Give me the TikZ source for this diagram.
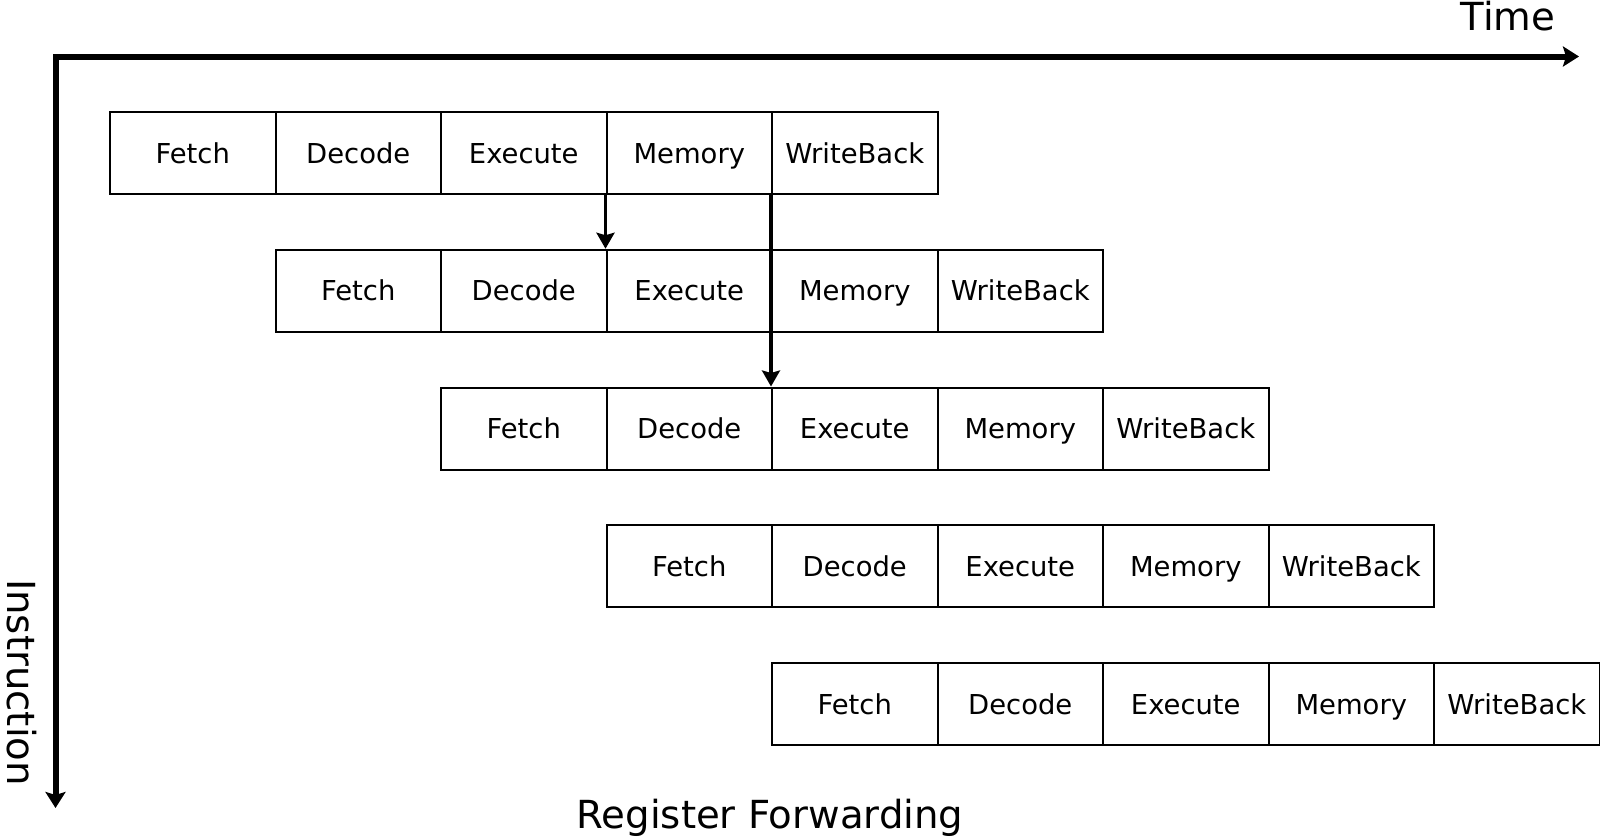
\documentclass[tikz,border=0pt]{standalone}
\usepackage{fontspec}
\setmainfont{DejaVu Sans}
\usepackage{tikz}
\usetikzlibrary{arrows.meta}

\tikzset{
  stage/.style={rectangle, draw=black, line width=0.04cm, inner sep=0pt,
    minimum width=3.31cm, minimum height=1.64cm,
    font=\fontsize{15.6pt}{18pt}\selectfont, text height=11.4pt, text depth=0pt},
  axis/.style={line width=0.12cm, line join=miter,
    {Stealth[length=0.32cm, width=0.4cm, inset=0.06cm]}-{Stealth[length=0.32cm, width=0.4cm, inset=0.06cm]}},
  fwd/.style={line width=0.066cm, -{Stealth[length=0.32cm, width=0.36cm, inset=0.05cm]}},
  biglabel/.style={font=\fontsize{22pt}{26pt}\selectfont, inner sep=0pt, anchor=base}
}

\begin{document}
\begin{tikzpicture}
\useasboundingbox (0,0) rectangle (32,-16.74);
% axes
\coordinate (origin) at (1.11,-1.13);
\coordinate (tend) at (31.58,-1.13);
\coordinate (iend) at (1.11,-16.16);
\draw[axis] (tend) -- (origin) -- (iend);
\node[biglabel] (time) at (30.16,-0.6) {Time};
\node[biglabel, rotate=-90] (instr) at (0.14,-13.65) {Instruction};
% pipeline stages
\foreach \i in {0,...,4}
  \foreach \s [count=\j from 0] in {Fetch,Decode,Execute,Memory,WriteBack}
    \node[stage] (\s\i) at ({3.855+(\i+\j)*3.31},{-3.06-2.755*\i}) {\s};
% forwarding
\draw[fwd] (Memory0.south west) -- (Execute1.north west);
\draw[fwd] (WriteBack0.south west) -- (Execute2.north west);
\node[biglabel] (title) at (15.4,-16.56) {Register Forwarding};
\end{tikzpicture}
\end{document}
